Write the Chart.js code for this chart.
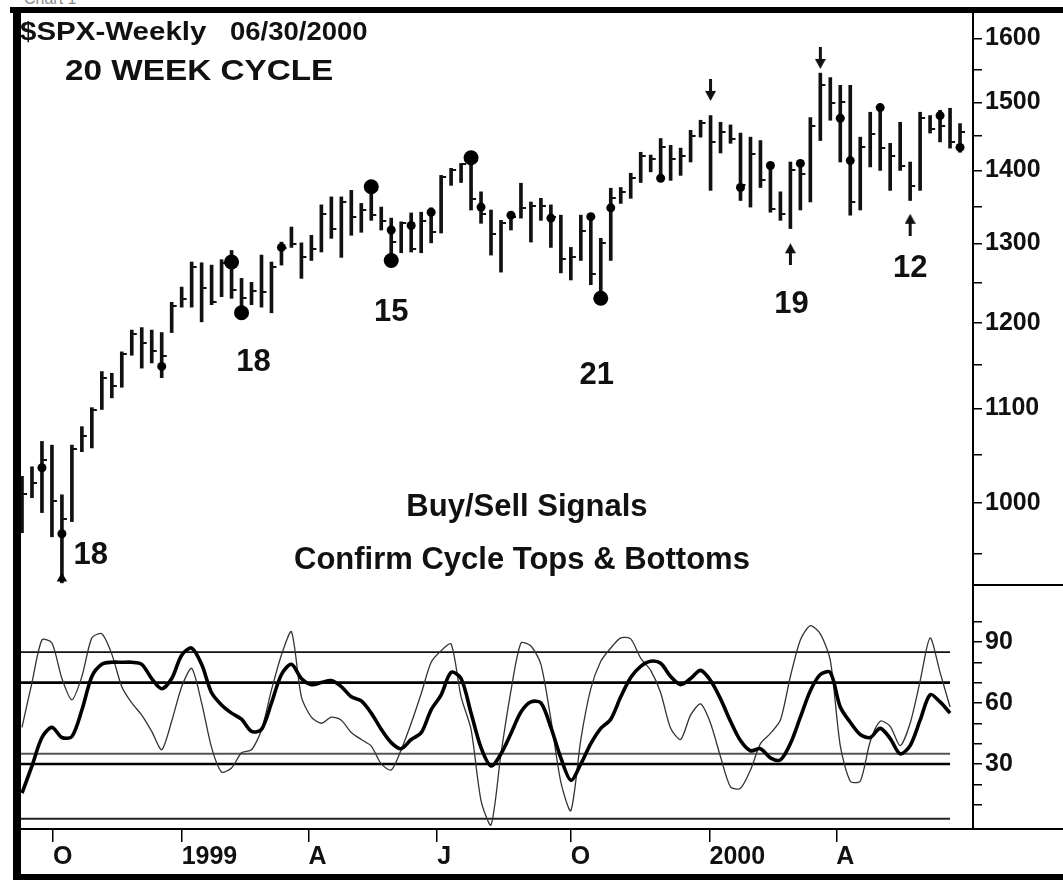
<!DOCTYPE html>
<html>
<head>
<meta charset="utf-8">
<title>$SPX Weekly - 20 Week Cycle</title>
<script src="https://cdn.jsdelivr.net/npm/chart.js@4.4.0/dist/chart.umd.min.js"></script>
<style>
  html, body { margin: 0; padding: 0; background: #fff; }
  body { position: relative; width: 1063px; height: 880px; overflow: hidden; }
  .pane { position: absolute; left: 0; }
  .rule { position: absolute; background: #000; }
  #caption { position: absolute; left: 24px; top: -10px; font: 16px "Liberation Sans", Arial, sans-serif; color: #888; }
</style>
</head>
<body>
<div id="caption">Chart 1</div>
<canvas id="priceChart" class="pane" style="top:0" width="1063" height="585"></canvas>
<canvas id="oscChart" class="pane" style="top:585px" width="1063" height="295"></canvas>
<div class="rule" style="left:10px;top:7px;width:1053px;height:6px"></div>
<div class="rule" style="left:13px;top:7px;width:8px;height:873px"></div>
<div class="rule" style="left:13px;top:874px;width:1050px;height:6px"></div>
<div class="rule" style="left:973px;top:584px;width:90px;height:2px"></div>
<div class="rule" style="left:973px;top:828px;width:90px;height:2px"></div>

<script>
// weekly bars, week 0 = 09/11/1998 ... week 94 = 06/30/2000
const highs = [1027, 1037, 1064, 1060, 1008, 1060, 1080, 1101, 1142, 1140,
  1165, 1191, 1194, 1191, 1188, 1225, 1244, 1276, 1275, 1272,
  1279, 1291, 1255, 1250, 1285, 1276, 1302, 1322, 1301, 1311,
  1352, 1363, 1363, 1372, 1354, 1376, 1349, 1334, 1329, 1341,
  1342, 1348, 1393, 1403, 1410, 1422, 1370, 1345, 1331, 1342,
  1382, 1356, 1361, 1352, 1338, 1295, 1338, 1338, 1307, 1375,
  1376, 1396, 1426, 1422, 1446, 1436, 1432, 1458, 1473, 1480,
  1470, 1466, 1454, 1448, 1443, 1410, 1370, 1412, 1412, 1477,
  1545, 1538, 1526, 1526, 1448, 1485, 1495, 1439, 1470, 1412,
  1485, 1480, 1488, 1491, 1468];
const lows = [970, 1005, 990, 966, 922, 981, 1053, 1057, 1099, 1112,
  1124, 1161, 1146, 1152, 1135, 1188, 1219, 1219, 1201, 1222,
  1232, 1230, 1209, 1222, 1219, 1212, 1272, 1295, 1255, 1278,
  1289, 1307, 1282, 1311, 1315, 1331, 1318, 1276, 1288, 1289,
  1288, 1301, 1314, 1379, 1383, 1345, 1327, 1285, 1263, 1318,
  1334, 1302, 1331, 1295, 1262, 1253, 1278, 1247, 1225, 1278,
  1354, 1361, 1383, 1398, 1386, 1386, 1393, 1412, 1448, 1372,
  1425, 1439, 1358, 1349, 1376, 1342, 1331, 1320, 1345, 1356,
  1443, 1473, 1412, 1338, 1345, 1405, 1400, 1372, 1400, 1358,
  1372, 1454, 1441, 1432, 1426];
const closes = [1009, 1020, 1044, 1002, 984, 1056, 1070, 1098, 1135, 1125,
  1163, 1186, 1176, 1166, 1160, 1220, 1229, 1270, 1243, 1225,
  1275, 1240, 1230, 1239, 1238, 1270, 1294, 1299, 1282, 1293,
  1340, 1319, 1356, 1335, 1345, 1338, 1330, 1302, 1327, 1293,
  1330, 1315, 1391, 1400, 1409, 1360, 1340, 1313, 1327, 1336,
  1348, 1350, 1351, 1335, 1280, 1282, 1317, 1260, 1301, 1362,
  1370, 1390, 1420, 1416, 1433, 1417, 1421, 1450, 1469, 1441,
  1455, 1445, 1380, 1424, 1387, 1346, 1340, 1400, 1395, 1464,
  1527, 1499, 1500, 1356, 1434, 1452, 1432, 1420, 1406, 1378,
  1477, 1460, 1464, 1441, 1455];

// buy/sell signal dots
const bigDotWeeks = [21, 22, 35, 37, 45, 58];
const bigDotPrices = [1276, 1212, 1377, 1278, 1418, 1230];
const smallDotWeeks = [2, 4, 14, 26, 37, 39, 41, 46, 49, 53, 57, 59, 64, 72, 75, 78, 82, 83, 86, 92, 94];
const smallDotPrices = [1036, 969, 1148, 1295, 1318, 1324, 1342, 1349, 1338, 1334, 1336, 1348, 1389, 1376, 1407, 1410, 1476, 1414, 1492, 1480, 1433];
const lowMarkWeeks = [4];
const lowMarkPrices = [926];
const downArrowWeeks = [69, 80];
const downArrowPrices = [1519, 1569];
const upArrowWeeks = [77, 89];
const upArrowPrices = [1286, 1325];

// cycle lengths written under the lows
const cycleLabels = ['18', '18', '15', '21', '19', '12'];
const cycleLabelWeeks = [6.9, 23.2, 37.0, 57.6, 77.1, 89.0];
const cycleLabelPrices = [948, 1152, 1212, 1138, 1222, 1268];
const noteLines = ['Buy/Sell Signals', 'Confirm Cycle Tops & Bottoms'];
const noteWeeks = [50.6, 50.1];
const notePrices = [995, 943];

// oscillator (weeks 0..93)
const slowOsc = [15.7, 29, 43, 48, 43, 43.5, 56.5, 73, 79, 80,
  80, 80, 79, 72, 67, 72, 83.5, 87, 79, 65,
  59, 55, 52, 46, 47, 60, 74, 79, 72, 69,
  70, 71, 68, 63, 61, 55, 47, 40.5, 37.5, 42,
  45.3, 56.6, 64, 75, 72, 55, 38, 29, 35, 45,
  55.5, 60.5, 60, 48, 33, 22, 30, 40, 47.5, 52,
  63, 72.5, 78, 80.5, 79.5, 73, 69, 72, 76, 71,
  62, 51, 41.5, 36.5, 37.5, 33, 32, 40, 53, 66,
  74, 75, 58, 50.5, 44.5, 43, 47.5, 42.5, 35, 39,
  51.5, 64, 60.5, 55];
const fastOsc = [48, 70, 91, 89.5, 72, 61.5, 73, 92, 94, 84,
  68, 60, 54, 46, 37, 51, 68, 77, 60, 38,
  26, 28, 35.5, 37, 46.7, 66.4, 83.6, 95, 63, 53,
  50, 53, 51.5, 45.5, 42, 38.8, 30, 27, 37, 50,
  64.5, 80, 85.7, 89, 63, 47, 12, 0, 35, 66,
  89.5, 88, 79, 52, 21, 7, 42, 67, 80.5, 87,
  92, 91.5, 82, 76, 65, 47.5, 42, 54, 59.5, 50,
  33.5, 18.7, 18, 27, 40, 45, 51.6, 73, 91, 98,
  94, 81, 39, 21.5, 21.5, 41, 51, 48.5, 39, 50,
  70.7, 92, 75, 58];
const levels = [85, 70, 35, 30, 3];

// axes
const priceTicks = [950, 1000, 1050, 1100, 1150, 1200, 1250, 1300, 1350, 1400, 1450, 1500, 1550, 1600];
const oscTicks = [10, 20, 30, 40, 50, 60, 70, 80, 90, 100];
const tickWeeks = [3.1, 16, 28.7, 41.6, 55, 68.9, 81.6];
const tickLabels = ['O', '1999', 'A', 'J', 'O', '2000', 'A'];

const X_MIN = -0.1, X_MAX = 95.3;
const FONT = '"Liberation Sans", Arial, sans-serif';
Chart.defaults.font.family = FONT;

const pts = (xs, ys) => xs.map((x, i) => ({ x: x, y: ys[i] }));

// fixed axis sizes, no extra room for the end labels
const fixSize = (w, h) => s => {
    if (w) s.width = w;
    if (h) s.height = h;
    s.paddingTop = 0; s.paddingBottom = 0;
    s.paddingLeft = 0; s.paddingRight = 0;
};

function closeTick() {
    const c = document.createElement('canvas');
    c.width = 12; c.height = 2;
    const g = c.getContext('2d');
    g.fillStyle = '#111';
    g.fillRect(6, 0, 5, 2);
    return c;
}

function arrow(down) {
    const c = document.createElement('canvas');
    c.width = 11; c.height = 22;
    const g = c.getContext('2d');
    g.fillStyle = '#111';
    g.beginPath();
    if (down) {
        g.fillRect(4, 0, 3, 13);
        g.moveTo(0, 12); g.lineTo(11, 12); g.lineTo(5.5, 22);
    } else {
        g.fillRect(4, 9, 3, 13);
        g.moveTo(0, 10); g.lineTo(11, 10); g.lineTo(5.5, 0);
    }
    g.closePath();
    g.fill();
    return c;
}

// text written on the price pane
const notesPlugin = {
    id: 'notes',
    afterDatasetsDraw(chart) {
        const {ctx, chartArea, scales} = chart;
        const put = (text, x, y, size, align, stretch) => {
            ctx.save();
            ctx.translate(x, y);
            ctx.scale(stretch, 1);
            ctx.font = 'bold ' + size + 'px ' + FONT;
            ctx.fillStyle = '#111';
            ctx.textAlign = align;
            ctx.textBaseline = 'middle';
            ctx.fillText(text, 0, 0);
            ctx.restore();
        };
        put('$SPX-Weekly', chartArea.left - 1, chartArea.top + 20, 25, 'left', 1.18);
        put('06/30/2000', chartArea.left + 209, chartArea.top + 20, 25, 'left', 1.1);
        put('20 WEEK CYCLE', chartArea.left + 44, chartArea.top + 59, 30, 'left', 1.11);
        cycleLabels.forEach((t, i) => {
            put(t, scales.x.getPixelForValue(cycleLabelWeeks[i]), scales.y.getPixelForValue(cycleLabelPrices[i]), 31, 'center', 1);
        });
        noteLines.forEach((t, i) => {
            put(t, scales.x.getPixelForValue(noteWeeks[i]), scales.y.getPixelForValue(notePrices[i]), 31, 'center', 1);
        });
    }
};

const axisGrid = {drawOnChartArea: false, drawTicks: true, tickLength: 9, color: '#000', lineWidth: 1.5};
const axisBorder = {display: true, color: '#000', width: 2};
const tickFont = {size: 25, weight: 'bold'};

new Chart(document.getElementById('priceChart'), {
    type: 'bar',
    data: {
        datasets: [
            {
                type: 'scatter', data: pts(bigDotWeeks, bigDotPrices),
                pointRadius: 7.5, pointBackgroundColor: '#000', pointBorderWidth: 0, order: 0
            },
            {
                type: 'scatter', data: pts(smallDotWeeks, smallDotPrices),
                pointRadius: 4.5, pointBackgroundColor: '#000', pointBorderWidth: 0, order: 0
            },
            {
                type: 'scatter', data: pts(lowMarkWeeks, lowMarkPrices),
                pointStyle: 'triangle', pointRadius: 6, pointBackgroundColor: '#000', pointBorderWidth: 0, order: 0
            },
            {
                type: 'scatter', data: pts(downArrowWeeks, downArrowPrices),
                pointStyle: arrow(true), pointRadius: 5, order: 0
            },
            {
                type: 'scatter', data: pts(upArrowWeeks, upArrowPrices),
                pointStyle: arrow(false), pointRadius: 5, order: 0
            },
            {
                type: 'scatter', data: closes.map((c, i) => ({x: i, y: c})),
                pointStyle: closeTick(), pointRadius: 3, order: 1
            },
            {
                type: 'bar', data: highs.map((h, i) => ({x: i, y: [lows[i], h]})),
                backgroundColor: '#111', barThickness: 3, order: 2
            }
        ]
    },
    options: {
        responsive: false,
        animation: false,
        devicePixelRatio: 1,
        events: [],
        layout: {autoPadding: false, padding: {left: 21, top: 13, right: 0, bottom: 0}},
        plugins: {legend: {display: false}, tooltip: {enabled: false}},
        scales: {
            x: {type: 'linear', min: X_MIN, max: X_MAX, offset: false, display: false},
            y: {
                type: 'logarithmic', position: 'right', min: 920, max: 1642,
                afterFit: fixSize(90, 0),
                afterBuildTicks: s => { s.ticks = priceTicks.map(v => ({value: v})); },
                ticks: {
                    autoSkip: false, padding: 3, color: '#111', font: tickFont,
                    callback: v => (v % 100 === 0 ? String(v) : '')
                },
                grid: axisGrid,
                border: axisBorder
            }
        }
    },
    plugins: [notesPlugin]
});

const levelStyles = [
    {color: '#111', width: 1.6},
    {color: '#000', width: 2.6},
    {color: '#555', width: 2.2},
    {color: '#000', width: 2.6},
    {color: '#222', width: 2}
];

new Chart(document.getElementById('oscChart'), {
    type: 'line',
    data: {
        datasets: [
            {
                data: slowOsc.map((v, i) => ({x: i, y: v})),
                borderColor: '#000', borderWidth: 3.6, tension: 0.3, pointRadius: 0, order: 0
            },
            {
                data: fastOsc.map((v, i) => ({x: i, y: v})),
                borderColor: '#333', borderWidth: 1.3, tension: 0.25, pointRadius: 0, order: 1
            },
            ...levels.map((v, k) => ({
                data: [{x: X_MIN, y: v}, {x: fastOsc.length - 1, y: v}],
                borderColor: levelStyles[k].color, borderWidth: levelStyles[k].width,
                pointRadius: 0, order: 2
            }))
        ]
    },
    options: {
        responsive: false,
        animation: false,
        devicePixelRatio: 1,
        events: [],
        layout: {autoPadding: false, padding: {left: 21, top: 0, right: 0, bottom: 0}},
        plugins: {legend: {display: false}, tooltip: {enabled: false}},
        scales: {
            x: {
                type: 'linear', min: X_MIN, max: X_MAX, offset: false, position: 'bottom',
                afterBuildTicks: s => { s.ticks = tickWeeks.map(v => ({value: v})); },
                afterFit: fixSize(0, 51),
                ticks: {
                    autoSkip: false, maxRotation: 0, align: 'start', padding: 0,
                    color: '#111', font: tickFont,
                    callback: (v, i) => tickLabels[i]
                },
                grid: {drawOnChartArea: false, drawTicks: true, tickLength: 13, color: '#000', lineWidth: 1.5},
                border: axisBorder
            },
            y: {
                type: 'linear', position: 'right', min: -2, max: 118,
                afterFit: fixSize(90, 0),
                afterBuildTicks: s => { s.ticks = oscTicks.map(v => ({value: v})); },
                ticks: {
                    autoSkip: false, padding: 3, color: '#111', font: tickFont,
                    callback: v => (v % 30 === 0 ? String(v) : '')
                },
                grid: axisGrid,
                border: axisBorder
            }
        }
    }
});
</script>
</body>
</html>
